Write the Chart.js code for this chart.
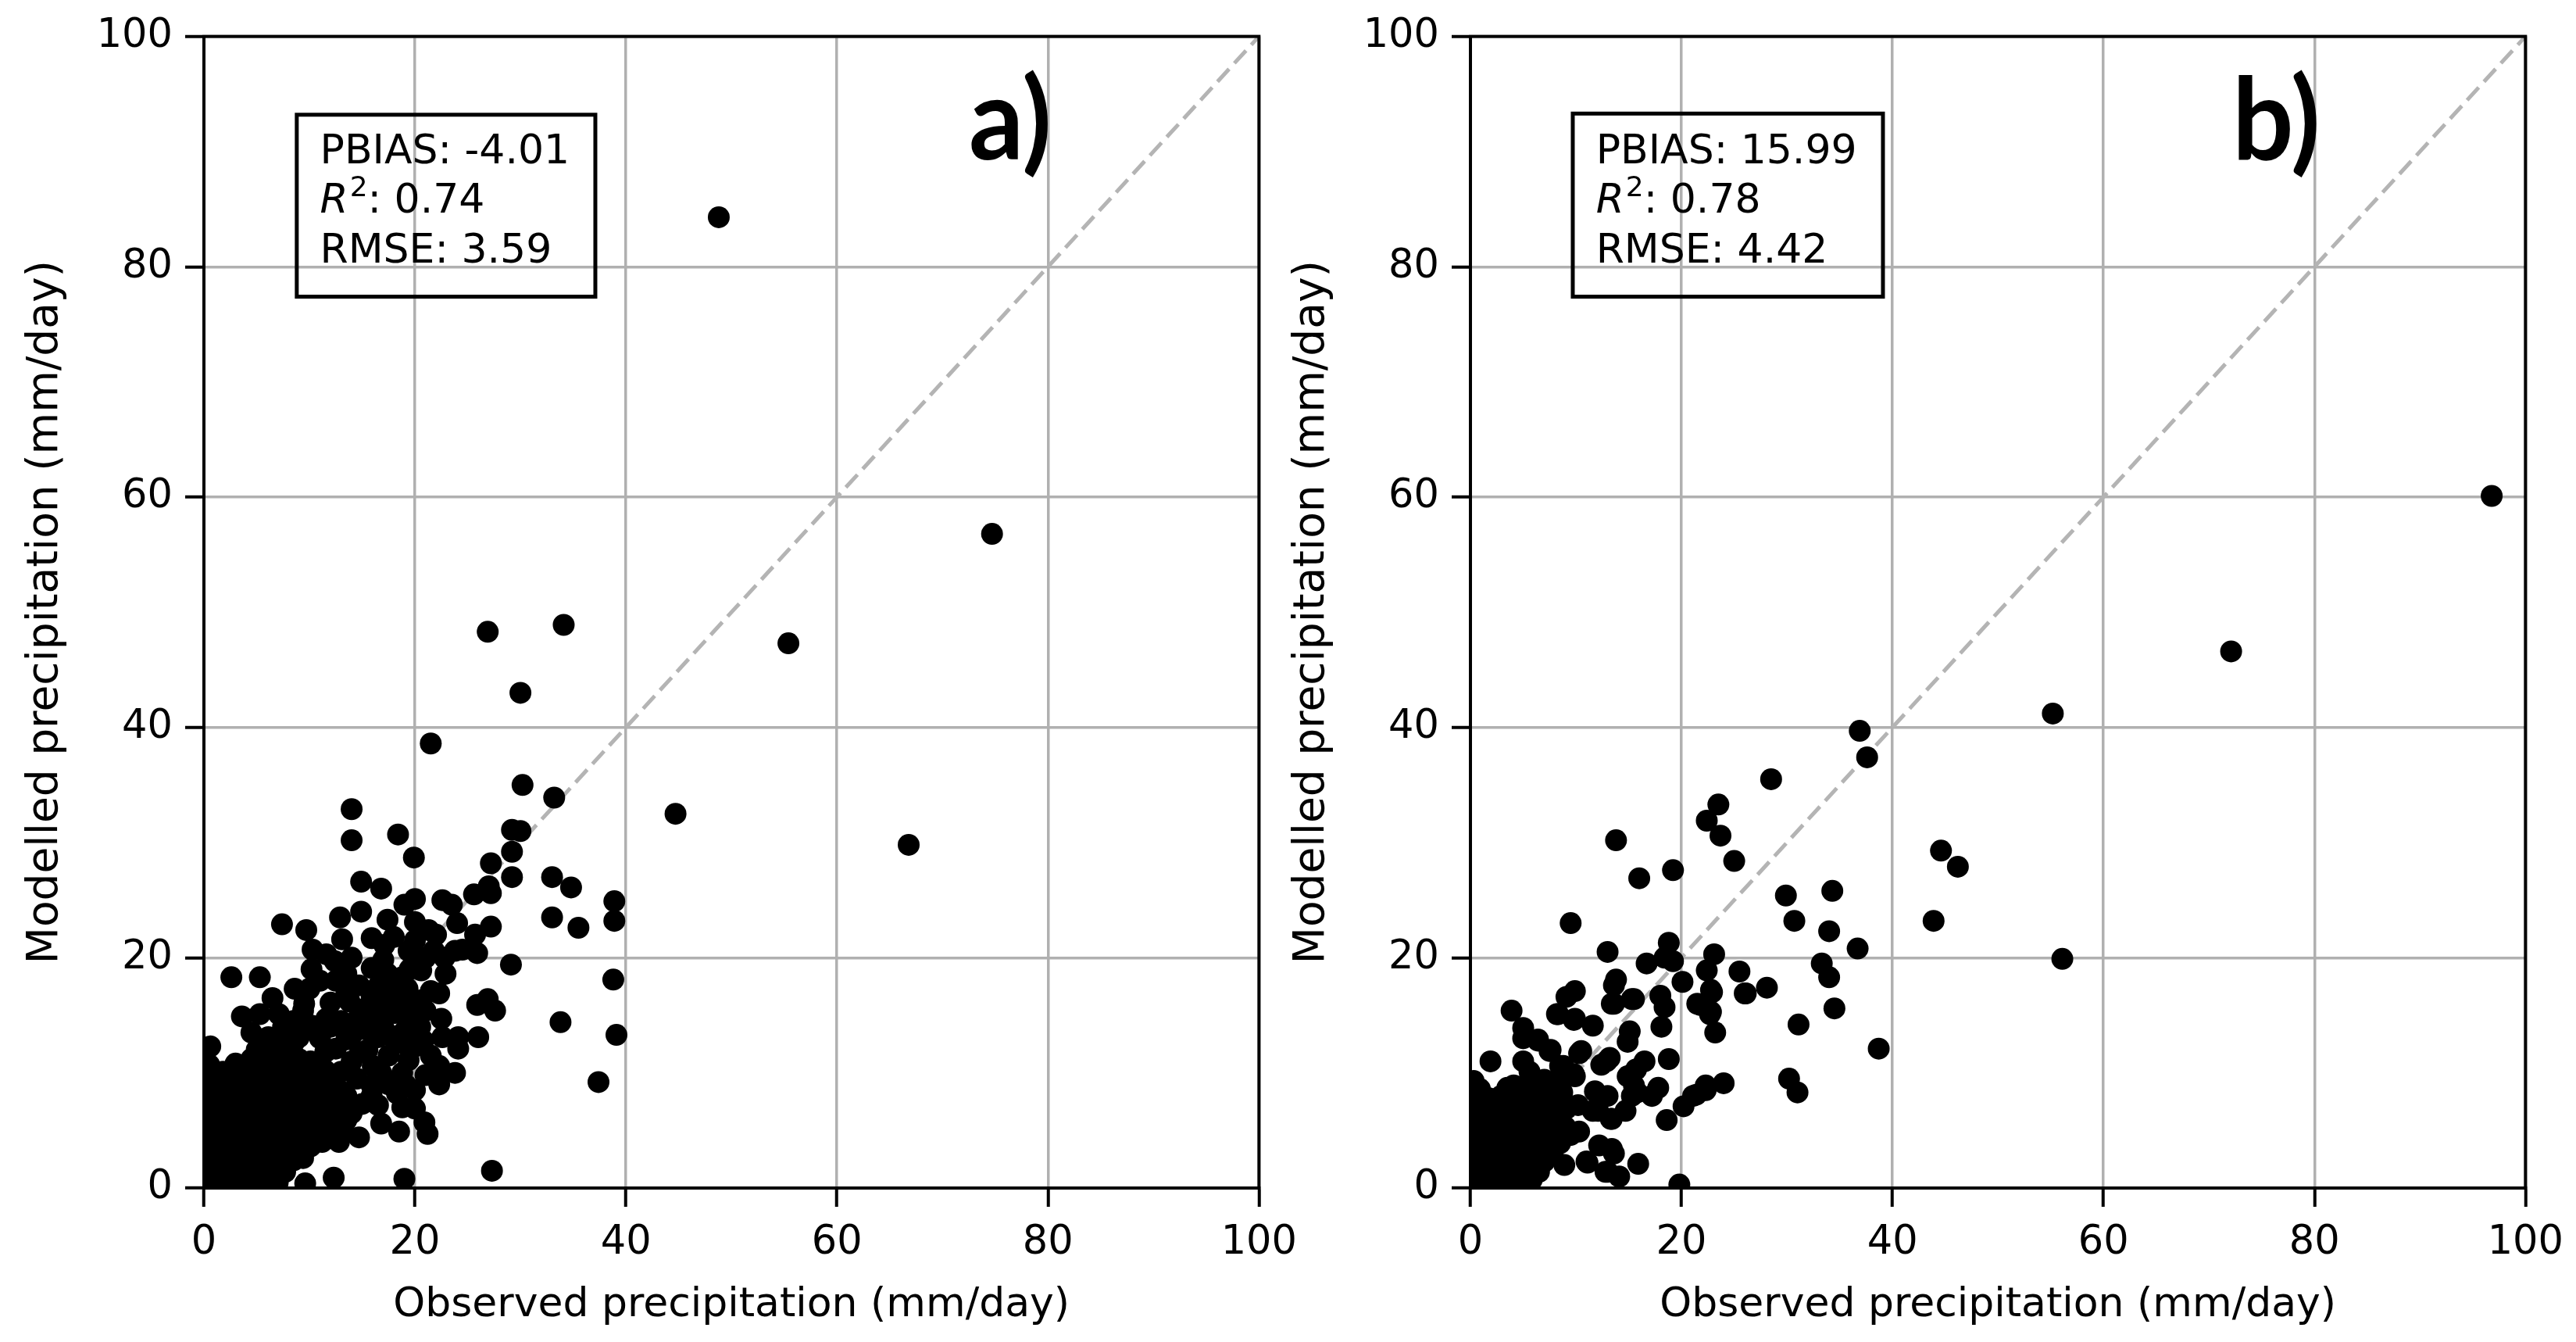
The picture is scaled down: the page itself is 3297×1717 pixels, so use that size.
<!DOCTYPE html>
<html>
<head>
<meta charset="utf-8">
<script src="https://cdn.jsdelivr.net/npm/chart.js@4.4.1/dist/chart.umd.min.js"></script>
<style>
  html, body { margin: 0; padding: 0; background: #fff; }
  body { width: 3297px; height: 1717px; position: relative; overflow: hidden; }
  .panel { position: absolute; top: 0; width: 1676px; height: 1717px; }
  #wrapA { left: 0; }
  #wrapB { left: 1621px; }
</style>
</head>
<body>
<div class="panel" id="wrapA"><canvas id="chartA"></canvas></div>
<div class="panel" id="wrapB"><canvas id="chartB"></canvas></div>
<script>
// values: [observed, modelled] in mm/day
const pointsA = [
  [48.8,84.3],[74.7,56.8],[55.4,47.3],[26.9,48.3],[34.1,48.9],[30.0,43.0],[21.5,38.6],[44.7,32.5],[66.8,29.8],[33.2,33.9],[30.2,35.0],
  [14.0,32.9],[14.0,30.2],[18.4,30.7],[19.9,28.7],[29.2,31.1],[30.0,31.0],[29.2,29.2],[27.2,28.2],[29.2,27.0],[33.0,27.0],[34.8,26.1],
  [38.9,24.9],[38.9,23.2],[33.0,23.5],[35.5,22.6],[38.8,18.1],[29.1,19.4],[33.8,14.4],[39.1,13.3],[37.4,9.2],[27.3,1.5],[19.0,0.8],
  [12.3,0.9],[9.6,0.4],
  [25.6,25.5],[27.2,25.6],[27.0,26.2],[22.6,25.0],[23.5,24.6],[20.0,25.1],[19.0,24.6],[14.9,26.6],[16.8,26.0],[14.9,24.0],[17.4,23.3],
  [12.9,23.5],[7.4,22.9],[9.7,22.4],[13.1,21.6],[20.0,23.1],[21.3,22.4],[27.2,22.7],[25.7,22.0],[25.9,20.4],[23.8,20.6],[24.5,20.7],
  [21.8,20.6],[19.4,20.6],[15.9,21.7],[17.1,21.1],[10.3,20.7],[11.6,20.3],[12.4,19.7],[2.6,18.3],[5.3,18.3],[10.2,19.0],[8.6,17.3],
  [10.0,17.3],[13.5,18.6],[14.7,17.6],[15.9,19.1],[17.4,18.6],[18.8,18.3],[20.6,18.9],[22.9,18.6],[22.3,16.9],[13.5,16.9],[15.9,16.6],
  [17.4,16.0],[18.8,16.6],[20.6,16.3],[21.5,17.1],[25.9,15.9],[26.9,16.4],[27.6,15.4],[3.6,14.9],[5.3,15.1],[7.1,15.1],[9.4,15.4],
  [11.6,14.7],[14.7,14.9],[19.4,14.9],[22.5,14.7],[14.1,13.4],[16.5,13.1],[18.5,12.6],[20.0,12.3],[22.6,13.1],[24.1,13.1],[26.0,13.1],
  [24.1,12.1],[22.3,10.6],[23.8,10.0],[22.3,9.0],[19.4,11.1],[18.8,10.0],[16.8,10.0],[15.9,8.9],[15.9,8.0],[18.8,7.0],[20.0,6.9],
  [21.2,4.7],[20.9,5.7],[18.5,4.9],[16.8,5.6],[14.7,4.4],[11.2,4.0],[9.4,2.6],[7.7,1.4],[0.6,12.3],
  [11.0,13.0],[12.5,12.1],[13.0,14.5],[12.0,16.1],[14.0,11.0],[15.5,12.0],[17.0,14.0],[18.1,15.2],[19.6,16.0],[21.0,15.4],[20.5,14.0],
  [17.5,11.5],[16.0,10.6],[14.5,9.5],[13.0,10.1],[12.0,8.5],[10.5,9.1],[10.1,11.0],[9.0,13.1],[8.0,12.0],[7.5,14.0],[6.1,13.1],
  [5.0,12.0],[11.0,6.5],[12.5,7.1],[14.0,6.5],[13.5,8.0],[17.5,9.0],[19.1,9.0],[20.0,8.5],[21.0,9.8],[15.0,15.5],[16.5,17.5],
  [18.0,17.5],[19.5,19.0],[21.0,20.0],[14.0,20.0],[12.5,18.0],[11.0,18.0],[9.5,16.0],[20.0,21.5],[22.0,22.0],[24.0,23.0],[18.0,21.8],
  [17.0,19.8],[6.5,16.5],[4.5,13.5],[6.5,12.0],[8.5,14.5],
  [11.5,11.8],[13.5,12.9],[15.2,13.8],[16.2,15.0],[17.8,13.2],[19.0,13.6],[20.8,12.8],[21.5,11.5],[18.3,8.2],[16.5,7.2],[15.0,7.3],
  [13.2,5.2],[12.8,4.0],[11.0,5.5],[10.2,14.1],[12.0,14.0],[13.8,16.2],[16.8,16.8],[19.3,17.3],[20.2,19.8],[22.8,20.0],[11.5,10.2],
  [14.8,11.8],
  [0.3,0.5],[1.5,0.4],[3.0,0.6],[4.4,0.5],[5.9,0.7],[7.0,0.5],
  [0.2,1.8],[1.6,1.9],[3.1,1.7],[4.5,2.0],[6.0,1.8],[7.4,2.1],[8.5,2.4],
  [0.3,3.2],[1.4,3.3],[2.9,3.1],[4.6,3.4],[6.1,3.2],[7.5,3.5],[9.0,3.3],[10.1,3.6],
  [0.2,4.6],[1.6,4.5],[3.0,4.8],[4.5,4.6],[5.9,4.7],[7.6,4.5],[9.1,4.9],[10.5,4.7],[12.0,5.1],
  [0.3,6.0],[1.5,6.1],[3.1,5.9],[4.6,6.2],[6.0,6.0],[7.4,6.1],[9.0,6.0],[10.4,6.2],[12.1,6.0],[13.5,5.9],
  [0.2,7.4],[1.6,7.3],[3.0,7.5],[4.5,7.3],[6.1,7.6],[7.6,7.4],[9.1,7.5],[10.6,7.4],[12.0,7.6],
  [0.3,8.8],[1.5,8.9],[3.1,8.7],[4.4,9.0],[6.0,8.8],[7.5,9.0],[9.0,8.7],[11.1,8.9],
  [0.2,10.0],[1.8,10.1],[3.5,9.9],[5.0,10.2],[6.5,10.0],[8.0,10.3],[9.5,10.1],
  [4.5,11.2],[6.0,11.1],[7.5,11.3],[9.0,11.2],[7.0,12.5],[8.5,12.6],
  [0.9,1.1],[2.3,1.2],[3.7,1.0],[5.2,1.2],[6.6,1.1],
  [0.9,2.5],[2.2,2.6],[3.8,2.4],[5.3,2.6],[6.7,2.5],[8.0,2.7],
  [0.8,3.9],[2.3,4.0],[3.7,3.8],[5.2,4.0],[6.8,3.9],[8.3,4.1],[9.6,4.0],
  [0.9,5.3],[2.2,5.4],[3.8,5.2],[5.3,5.4],[6.7,5.3],[8.2,5.5],[9.8,5.3],[11.2,5.4],
  [0.8,6.7],[2.3,6.8],[3.7,6.6],[5.3,6.8],[6.8,6.7],[8.2,6.9],[9.7,6.7],[11.3,6.9],[12.8,6.8],
  [0.9,8.1],[2.2,8.2],[3.8,8.0],[5.2,8.2],[6.7,8.1],[8.3,8.3],[9.8,8.1],[11.4,8.2],[13.0,8.4],
  [0.8,9.4],[2.4,9.5],[3.9,9.3],[5.4,9.5],[6.9,9.4],[8.5,9.6],[10.0,9.4],[12.0,9.7],
  [0.5,10.7],[3.0,10.8],[5.3,10.6],[6.8,10.8],[8.3,10.9],[10.5,10.6]
];

const pointsB = [
  [96.8,60.1],[72.1,46.6],[55.2,41.2],[56.1,19.9],[43.9,23.2],[44.6,29.3],[46.2,27.9],[38.7,12.1],
  [36.9,39.7],[37.6,37.4],[28.5,35.5],[23.5,33.3],[22.4,31.9],[23.7,30.6],[13.8,30.2],[25.0,28.4],[19.2,27.6],[16.0,26.9],
  [29.9,25.4],[34.3,25.8],[30.7,23.2],[34.0,22.3],[9.5,23.0],[36.7,20.8],[18.8,21.3],[13.0,20.5],[19.2,19.7],[18.4,20.0],
  [16.7,19.5],[23.1,20.3],[22.4,18.9],[33.3,19.5],[34.0,18.3],[25.5,18.8],[20.1,17.9],[28.1,17.4],[26.1,16.9],[22.8,17.2],
  [13.8,18.1],[13.6,17.6],[9.9,17.1],[9.1,16.6],[15.3,16.4],[13.6,16.0],[18.0,16.7],[18.4,15.7],[21.5,16.0],[22.7,15.1],
  [34.5,15.6],[3.9,15.4],[8.3,15.1],[9.9,14.7],[11.6,14.1],[18.1,14.0],[23.2,13.5],[31.1,14.2],[5.0,13.9],[5.0,13.0],
  [6.4,12.9],[7.6,12.0],[15.1,13.6],[14.9,12.7],[10.5,11.9],[1.9,11.0],[5.0,11.0],[13.2,11.3],[12.4,10.7],[16.5,11.0],
  [15.7,10.3],[14.9,9.7],[18.8,11.2],[24.0,9.1],[22.3,8.9],[21.1,8.0],[20.2,7.1],[30.2,9.5],[31.0,8.3],[17.8,8.7],
  [17.2,8.0],[15.5,8.9],[15.3,8.0],[11.8,8.4],[13.0,8.0],[11.6,6.7],[13.4,6.0],[14.7,6.7],[18.6,5.9],[8.5,10.6],
  [9.9,9.7],[8.7,8.3],[10.3,4.9],[12.2,3.7],[13.4,3.4],[13.6,3.0],[11.0,2.3],[8.9,2.0],[15.9,2.1],[13.0,1.4],
  [14.1,1.0],[19.8,0.3],[7.0,2.3],[2.9,8.0],[4.1,8.9],[5.6,10.1],[3.2,8.1],[2.2,7.2],[15.8,8.3],[22.9,17.0],
  [21.8,15.9],[22.8,15.3],[26.0,16.9],[13.4,16.0],[15.5,16.4],[8.2,15.1],[9.8,14.6],[6.4,12.8],[7.5,11.9],[10.3,11.7],
  [8.8,10.6],[9.8,9.9],[12.9,11.0],[15.0,9.7],[12.1,6.7],[13.3,6.0],[22.3,8.5],[21.4,8.1],[11.1,2.2],[12.8,1.4],
  [0.3,0.5],[1.5,0.4],[3.0,0.6],[4.5,0.5],[5.8,0.7],
  [0.3,2.0],[1.6,1.8],[3.1,2.1],[4.6,1.9],[6.0,2.2],
  [0.3,3.5],[1.5,3.3],[3.0,3.6],[4.4,3.4],[5.9,3.7],[7.4,3.5],[8.5,3.9],
  [0.3,5.0],[1.6,4.9],[3.2,5.1],[4.6,4.8],[6.1,5.2],[7.6,5.0],[9.0,5.3],
  [0.3,6.5],[1.5,6.3],[3.0,6.6],[4.5,6.4],[6.0,6.7],[7.5,6.5],[9.1,6.9],[10.2,7.2],
  [0.3,8.0],[1.7,7.8],[4.5,7.9],[6.0,8.1],[7.4,7.8],
  [0.3,9.3],[5.5,9.2],[7.0,9.4],[8.3,9.2],
  [0.9,1.2],[2.3,1.1],[3.8,1.3],[5.2,1.2],[6.5,1.4],
  [0.9,2.8],[2.3,2.7],[3.8,2.9],[5.3,2.8],[6.7,3.0],[7.8,2.9],
  [0.9,4.2],[2.3,4.1],[3.9,4.3],[5.3,4.2],[6.8,4.4],[8.2,4.3],[9.5,4.6],
  [0.9,5.8],[2.4,5.7],[3.9,5.9],[5.4,5.8],[6.8,6.0],[8.3,5.9],
  [0.9,7.2],[2.4,7.1],[3.8,7.3],[5.3,7.2],[6.8,7.4],[8.3,7.3],
  [0.9,8.6],[3.5,8.7],[5.0,8.5],[6.6,8.8]
];

const tickValues = [0, 20, 40, 60, 80, 100];
const oneToOne = [[0, 0], [100, 100]];
const panelLabels = ['a)', 'b)'];
const pbias = ['-4.01', '15.99'];
const r2 = ['0.74', '0.78'];
const rmse = ['3.59', '4.42'];

const FONT = '"DejaVu Sans", sans-serif';

// frame, stats box and panel letter
const decor = {
  id: 'decor',
  afterDatasetsDraw(chart, args, o) {
    const { ctx, chartArea: a, scales: { x, y } } = chart;
    ctx.save();
    ctx.strokeStyle = '#000';
    ctx.lineWidth = 4;
    ctx.strokeRect(a.left, a.top, a.right - a.left, a.bottom - a.top);

    const bx0 = x.getPixelForValue(o.box[0]), bx1 = x.getPixelForValue(o.box[1]);
    const by0 = y.getPixelForValue(o.box[2]), by1 = y.getPixelForValue(o.box[3]);
    ctx.lineWidth = 5;
    ctx.strokeRect(bx0, by0, bx1 - bx0, by1 - by0);

    ctx.fillStyle = '#000';
    ctx.textAlign = 'left';
    ctx.textBaseline = 'middle';
    const tx = x.getPixelForValue(o.textX);
    ctx.font = '52px ' + FONT;
    ctx.fillText('PBIAS: ' + o.pbias, tx, y.getPixelForValue(89.9));
    const ry = y.getPixelForValue(85.6);
    ctx.font = 'italic 52px ' + FONT;
    ctx.fillText('R', tx, ry);
    let w = ctx.measureText('R').width;
    ctx.font = '36px ' + FONT;
    ctx.fillText('2', tx + w + 2, ry - 17);
    w += ctx.measureText('2').width + 2;
    ctx.font = '52px ' + FONT;
    ctx.fillText(': ' + o.r2, tx + w, ry);
    ctx.fillText('RMSE: ' + o.rmse, tx, y.getPixelForValue(81.3));

    ctx.font = 'bold 132px Lato, sans-serif';
    ctx.textBaseline = 'alphabetic';
    ctx.translate(x.getPixelForValue(o.labelX), y.getPixelForValue(89.3));
    ctx.scale(1.05, 1.1);
    ctx.fillText(o.label, 0, 0);
    ctx.restore();
  }
};

function axis(title, titleSize, titlePad, fit) {
  return {
    type: 'linear',
    min: 0,
    max: 100,
    afterBuildTicks: s => { s.ticks = tickValues.map(v => ({ value: v })); },
    afterFit: fit,
    ticks: { color: '#000', font: { family: FONT, size: 51 }, padding: 16 },
    grid: { color: '#b0b0b0', lineWidth: 3.5, drawTicks: true, tickLength: 24, tickColor: '#000', tickWidth: 4 },
    border: { display: true, color: '#000', width: 4 },
    title: { display: true, text: title, color: '#000', font: { family: FONT, size: titleSize }, padding: titlePad }
  };
}

function makeChart(id, pts, i) {
  new Chart(document.getElementById(id), {
    type: 'scatter',
    data: {
      datasets: [
        {
          data: pts.map(p => ({ x: p[0], y: p[1] })),
          backgroundColor: '#000',
          borderWidth: 0,
          pointRadius: 14,
          pointHoverRadius: 14,
          clip: 0,
          order: 1
        },
        {
          type: 'line',
          data: oneToOne.map(p => ({ x: p[0], y: p[1] })),
          borderColor: '#b4b4b4',
          borderWidth: 5,
          borderDash: [22, 10],
          pointRadius: 0,
          fill: false,
          order: 2
        }
      ]
    },
    options: {
      responsive: true,
      maintainAspectRatio: false,
      animation: false,
      devicePixelRatio: 1,
      layout: { padding: { left: 0, top: 42, right: 63, bottom: 0 } },
      scales: {
        x: axis('Observed precipitation (mm/day)', 52, { top: 0, bottom: 15 }, s => { s.height = 197; }),
        y: axis('Modelled precipitation (mm/day)', 55, { top: 26, bottom: 0 }, s => { s.width = 261; })
      },
      plugins: {
        legend: { display: false },
        tooltip: { enabled: false },
        decor: {
          box: i === 0 ? [8.8, 37.1, 93.2, 77.4] : [9.7, 39.1, 93.3, 77.4],
          textX: i === 0 ? 11.0 : 11.9,
          labelX: i === 0 ? 72.5 : 72.2,
          label: panelLabels[i],
          pbias: pbias[i],
          r2: r2[i],
          rmse: rmse[i]
        }
      }
    },
    plugins: [decor]
  });
}

makeChart('chartA', pointsA, 0);
makeChart('chartB', pointsB, 1);
</script>
</body>
</html>
